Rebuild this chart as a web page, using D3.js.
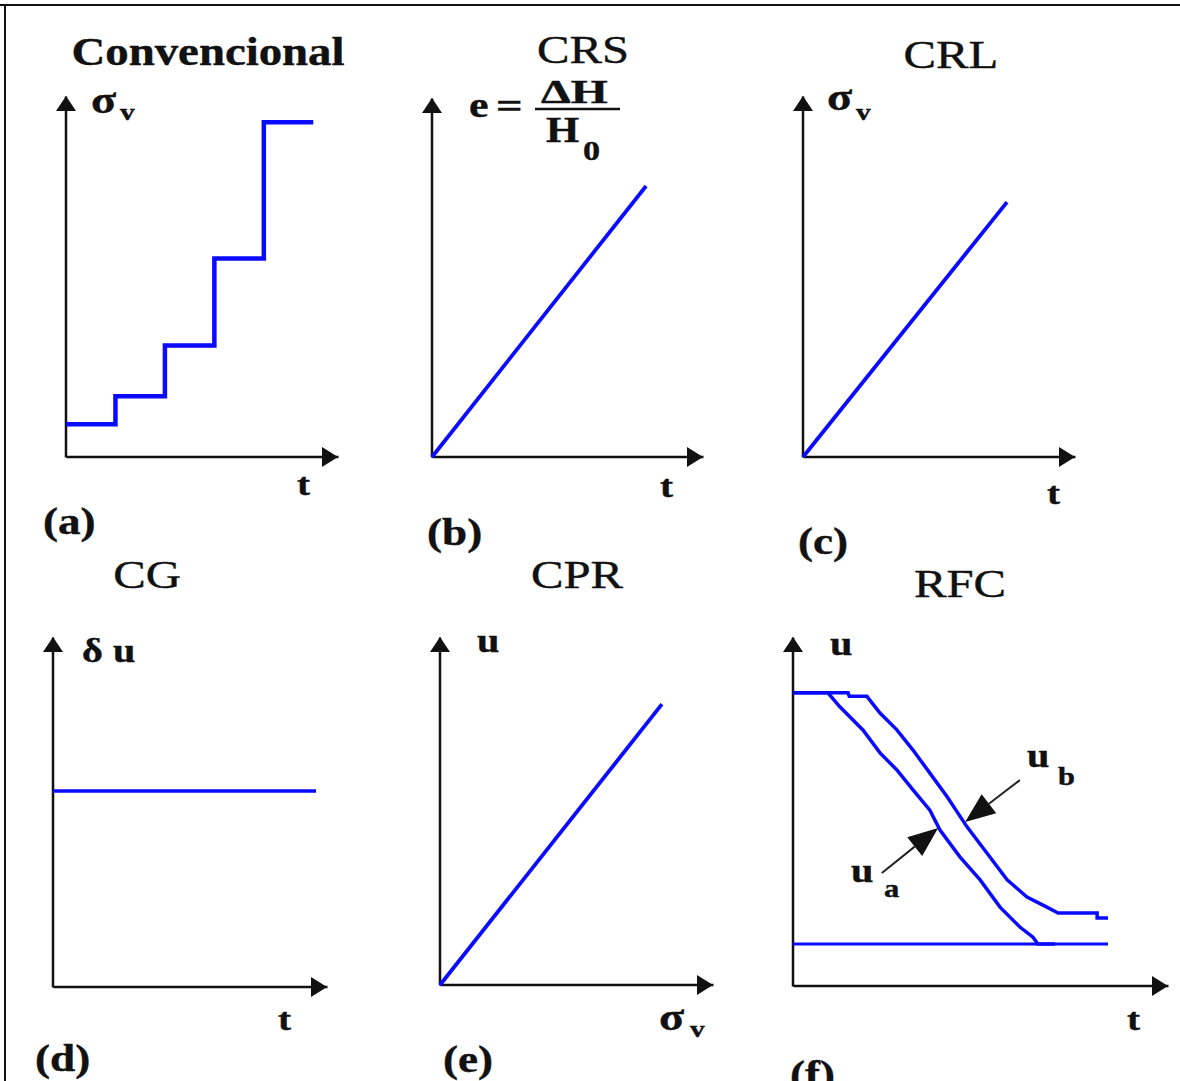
<!DOCTYPE html>
<html><head><meta charset="utf-8">
<script src="https://cdn.jsdelivr.net/npm/d3@7"></script>
<style>
html,body{margin:0;padding:0;background:#fff;}
svg{display:block;}
</style></head><body>
<svg id="chart" width="1180" height="1081"></svg>
<script>
// ---------- data ----------
const titles = ["Convencional", "CRS", "CRL", "CG", "CPR", "RFC"];
const panelTags = ["(a)", "(b)", "(c)", "(d)", "(e)", "(f)"];

// (a) conventional incremental loading: load start times and stress levels
const loadStartT = [0, 1, 2, 3, 4];
const loadStress = [1.0, 1.85, 3.4, 6.05, 10.2];
const loadEndT = 5;

// (b) constant rate of strain
const crsT = [0, 7.9];
const crsE = [0, 7.55];

// (c) constant rate of loading
const crlT = [0, 7.5];
const crlS = [0, 7.06];

// (d) constant gradient
const cgT = [0, 9.6];
const cgDu = [5.6, 5.6];

// (e) constant pore-pressure ratio
const cprS = [0, 8.13];
const cprU = [0, 8.07];

// (f) restricted flow: base pressure u_a, top pressure u_b and the final level
const rfcTa = [0, 0.93, 1.25, 1.87, 2.32, 2.77, 3.2, 3.65, 3.92, 4.45, 4.99, 5.52, 6.05, 6.4, 6.53, 6.99];
const rfcUa = [8.4, 8.4, 8.0, 7.33, 6.68, 6.19, 5.62, 5.04, 4.47, 3.7, 3.04, 2.26, 1.69, 1.4, 1.2, 1.2];
const rfcTb = [0, 1.47, 1.5, 1.97, 2.32, 2.77, 3.2, 3.65, 4.11, 4.64, 5.17, 5.71, 6.24, 6.77, 7.07, 8.11, 8.11, 8.4];
const rfcUb = [8.4, 8.4, 8.3, 8.3, 7.82, 7.34, 6.76, 6.1, 5.42, 4.56, 3.81, 3.04, 2.55, 2.26, 2.09, 2.09, 1.95, 1.95];
const rfcBaseT = [0, 8.4];
const rfcBaseU = [1.2, 1.2];

// ---------- drawing ----------
const svg = d3.select("#chart");
const BLUE = "#0a0aff", INK = "#111";
const FONT = '"Liberation Serif","Times New Roman",serif';

// page frame
svg.append("line").attr("x1", 0).attr("x2", 1180).attr("y1", 5).attr("y2", 5)
  .attr("stroke", INK).attr("stroke-width", 2);
svg.append("line").attr("x1", 5).attr("x2", 5).attr("y1", 5).attr("y2", 1081)
  .attr("stroke", INK).attr("stroke-width", 2);

function text(x, y, str, size, weight, anchor, sx) {
  return svg.append("text")
    .attr("transform", `translate(${x},${y}) scale(${sx || 1.22},1)`)
    .attr("font-family", FONT)
    .attr("font-size", size)
    .attr("font-weight", weight || "bold")
    .attr("text-anchor", anchor || "start")
    .attr("fill", INK)
    .attr("stroke", INK)
    .attr("stroke-width", 0.4)
    .text(str);
}

function head(tx, ty, dx, dy, len, half) {
  const bx = tx - dx * len, by = ty - dy * len;
  const px = -dy, py = dx;
  svg.append("path")
    .attr("d", `M${tx},${ty}L${bx + px * half},${by + py * half}L${bx - px * half},${by - py * half}Z`)
    .attr("fill", INK);
}

function styleAxis(g) {
  g.select(".domain").attr("stroke", INK).attr("stroke-width", 2.5);
}

function panel(o) {
  const x = d3.scaleLinear().domain([0, o.xMax]).range([o.x0, o.xTip]);
  const y = d3.scaleLinear().domain([0, o.yMax]).range([o.y0, o.yTop]);
  svg.append("g").attr("transform", `translate(0,${o.y0 - 0.5})`)
    .call(d3.axisBottom(x).tickValues([]).tickSizeOuter(0)).call(styleAxis);
  svg.append("g").attr("transform", `translate(${o.x0 - 0.5},0)`)
    .call(d3.axisLeft(y).tickValues([]).tickSizeOuter(0)).call(styleAxis);
  head(x(o.xMax), y(0), 1, 0, 16, 10);
  head(x(0), y(o.yMax), 0, -1, 15, 10);
  return { x, y };
}

function curve(p, xs, ys, width, shape) {
  const pts = xs.map((v, i) => [v, ys[i]]);
  const line = d3.line().x(d => p.x(d[0])).y(d => p.y(d[1]));
  if (shape) line.curve(shape);
  svg.append("path").attr("d", line(pts))
    .attr("fill", "none").attr("stroke", BLUE)
    .attr("stroke-width", width).attr("stroke-linejoin", "miter");
}

// (a) Convencional
const pa = panel({ x0: 66, y0: 457, xTip: 338, yTop: 96, xMax: 5.5, yMax: 11 });
curve(pa, loadStartT.concat([loadEndT]), loadStress.concat([loadStress[loadStress.length - 1]]), 4.5, d3.curveStepAfter);
text(208, 65, titles[0], 39, "bold", "middle", 1.2);
text(91, 113, "σ", 38); text(120, 120, "v", 24);
text(297, 495, "t", 32);
text(43, 534, panelTags[0], 37);

// (b) CRS
const pb = panel({ x0: 432, y0: 457, xTip: 703, yTop: 98, xMax: 10, yMax: 10 });
curve(pb, crsT, crsE, 3.8);
text(583, 63, titles[1], 39, "normal", "middle", 1.25);
text(469, 117, "e", 36);
text(496, 118, "=", 36, "bold", "start", 1.3);
svg.append("line").attr("x1", 535).attr("x2", 620).attr("y1", 109).attr("y2", 109)
  .attr("stroke", INK).attr("stroke-width", 2.5);
text(541, 103, "ΔH", 34, "bold", "start", 1.4);
text(546, 142, "H", 35);
text(583, 160, "0", 28);
text(660, 497, "t", 32);
text(427, 545, panelTags[1], 37);

// (c) CRL
const pc = panel({ x0: 803, y0: 457, xTip: 1075, yTop: 96, xMax: 10, yMax: 10 });
curve(pc, crlT, crlS, 3.8);
text(951, 68, titles[2], 39, "normal", "middle", 1.25);
text(827, 110, "σ", 38); text(856, 120, "v", 24);
text(1047, 504, "t", 32);
text(798, 554, panelTags[2], 37);

// (d) CG
const pd = panel({ x0: 53, y0: 987, xTip: 327, yTop: 637, xMax: 10, yMax: 10 });
curve(pd, cgT, cgDu, 3.5);
text(147, 588, titles[3], 39, "normal", "middle", 1.25);
text(82, 662, "δ u", 33);
text(278, 1030, "t", 32);
text(35, 1071, panelTags[3], 37);

// (e) CPR
const pe = panel({ x0: 440, y0: 985, xTip: 713, yTop: 637, xMax: 10, yMax: 10 });
curve(pe, cprS, cprU, 3.8);
text(577, 588, titles[4], 39, "normal", "middle", 1.25);
text(477, 652, "u", 33);
text(659, 1030, "σ", 38); text(690, 1037, "v", 24);
text(443, 1072, panelTags[4], 37);

// (f) RFC
const pf = panel({ x0: 793, y0: 986, xTip: 1168, yTop: 637, xMax: 10, yMax: 10 });
curve(pf, rfcBaseT, rfcBaseU, 3);
curve(pf, rfcTa, rfcUa, 3.5);
curve(pf, rfcTb, rfcUb, 3.5);
text(960, 597, titles[5], 39, "normal", "middle", 1.25);
text(830, 655, "u", 33);
text(1127, 1030, "t", 32);
text(790, 1087, panelTags[5], 37);

// pointers naming the two pressure curves
function pointer(p, from, to) {
  const x1 = p.x(from[0]), y1 = p.y(from[1]);
  const x2 = p.x(to[0]), y2 = p.y(to[1]);
  const L = Math.hypot(x2 - x1, y2 - y1);
  const dx = (x2 - x1) / L, dy = (y2 - y1) / L;
  const len = 30;
  svg.append("line").attr("x1", x1).attr("y1", y1)
    .attr("x2", x2 - dx * len).attr("y2", y2 - dy * len)
    .attr("stroke", "#222").attr("stroke-width", 2);
  head(x2, y2, dx, dy, len, 12);
}
pointer(pf, [6.05, 5.9], [4.59, 4.7]);
pointer(pf, [2.37, 3.24], [3.87, 4.53]);
text(1027, 767, "u", 33); text(1058, 785, "b", 25);
text(851, 882, "u", 33); text(884, 897, "a", 25);
</script>
</body></html>
